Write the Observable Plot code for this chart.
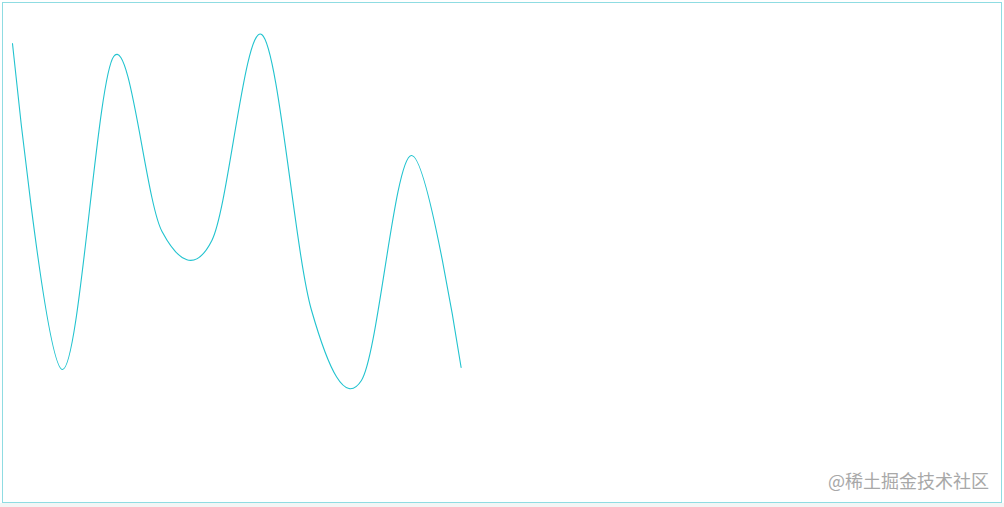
<!DOCTYPE html>
<html>
<head>
<meta charset="utf-8">
<script src="https://cdn.jsdelivr.net/npm/d3@7"></script>
<script src="https://cdn.jsdelivr.net/npm/@observablehq/plot@0.6"></script>
<style>
  html, body { margin: 0; padding: 0; background: #ffffff; }
  body { width: 1004px; height: 507px; position: relative; overflow: hidden; font-family: "Noto Sans CJK SC", "Noto Sans", sans-serif; }
  #strip { position: absolute; left: 0; top: 503px; width: 1004px; height: 4px; background: #f4f5f5; }
  #box { position: absolute; left: 2px; top: 2px; width: 998px; height: 499px; border: 1px solid #8fdce2; background: #fff; }
  #chart svg { display: block; }
  #mark { position: absolute; right: 15px; top: 467px; font-size: 18px; color: #a8a8a8; font-family: "Noto Sans CJK SC", sans-serif; }
</style>
</head>
<body>
<div id="strip"></div>
<div id="box"><div id="chart"></div></div>
<div id="mark">@稀土掘金技术社区</div>
<script>
// position of each point along the curve
const positions = [0, 1, 2.03, 3, 4, 5, 6, 7, 8, 9];
// value of each point (higher = further up)
const values = [459, 133, 446, 271, 262, 468, 192, 122, 347, 135];

const data = positions.map((i, k) => ({i, v: values[k]}));

const chart = Plot.plot({
  width: 998,
  height: 499,
  margin: 0,
  x: {domain: [-0.18, 19.84], axis: null},
  y: {domain: [0, 499], axis: null},
  marks: [
    Plot.line(data, {x: "i", y: "v", curve: "cardinal", tension: 0, stroke: "#22c3cf", strokeWidth: 1.1})
  ]
});
document.getElementById("chart").appendChild(chart);
</script>
</body>
</html>
